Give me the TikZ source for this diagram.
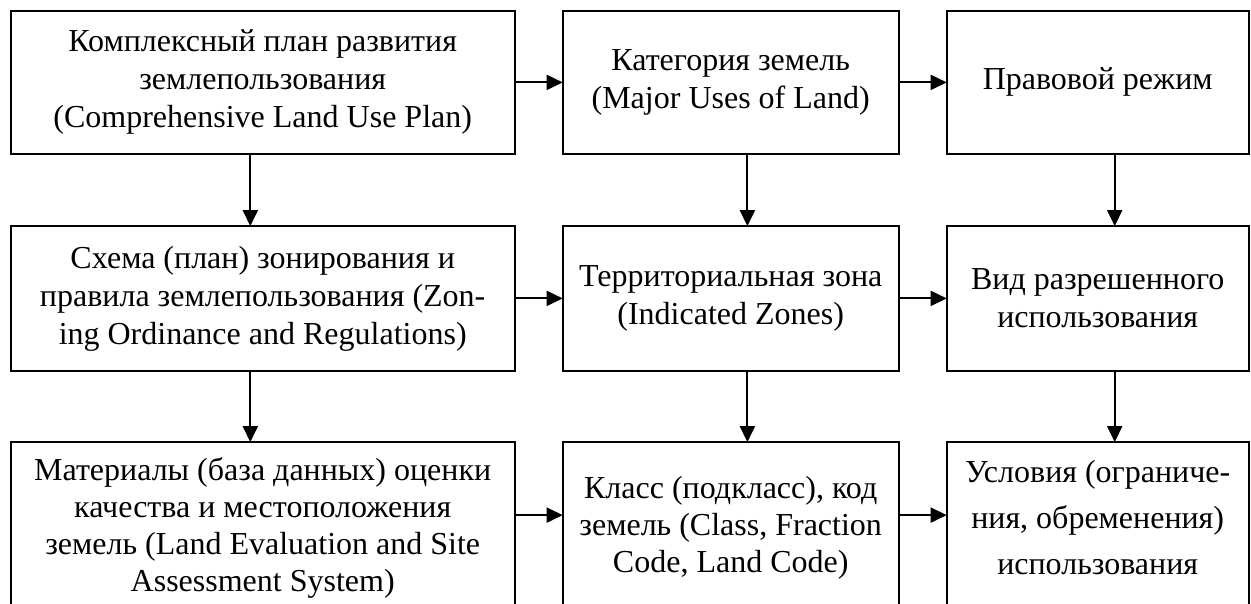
\documentclass[tikz,border=0pt]{standalone}
\usepackage{fontspec}
\setmainfont{Liberation Serif}
\usetikzlibrary{arrows.meta}
\usetikzlibrary{positioning}
\tikzset{
	zbox/.style={draw=black, line width=1pt, align=center, inner sep=4pt, outer sep=0pt,
		font=\fontsize{16}{19}\selectfont},
	flow/.style={line width=1pt, -{Triangle[length=8pt,width=7.5pt]}}
}

\begin{document}
\begin{tikzpicture}[node distance=36pt and 24pt]
		\useasboundingbox (-5.35pt,5.35pt) rectangle (620.15pt,-296.65pt);
		% first row
		\node[zbox, anchor=north west, minimum width=252pt, minimum height=71.7pt] (plan) at (0,0)
		{Комплексный план развития\\землепользования\\(Comprehensive Land Use Plan)};
		\node[zbox, right=of plan, minimum width=168pt, minimum height=71.7pt] (kat)
		{Категория земель\\(Major Uses of Land)};
		\node[zbox, right=of kat, minimum width=151pt, minimum height=71.7pt] (rezh)
		{Правовой режим};
		% second row
		\node[zbox, below=of plan, minimum width=252pt, minimum height=72.3pt] (shema)
		{Схема (план) зонирования и\\правила землепользования (Zon-\\ing Ordinance and Regulations)};
		\node[zbox, below=of kat, minimum width=168pt, minimum height=72.3pt] (zona)
		{Территориальная зона\\(Indicated Zones)};
		\node[zbox, below=of rezh, minimum width=151pt, minimum height=72.3pt] (vid)
		{Вид разрешенного\\использования};
		% third row
		\node[zbox, below=35.7pt of shema, minimum width=252pt, minimum height=86pt,
		font=\fontsize{16}{18.5}\selectfont] (mat)
		{Материалы (база данных) оценки\\качества и местоположения\\земель (Land Evaluation and Site\\Assessment System)};
		\node[zbox, below=35.7pt of zona, minimum width=168pt, minimum height=86pt,
		font=\fontsize{16}{18.5}\selectfont] (klass)
		{Класс (подкласс), код\\земель (Class, Fraction\\Code, Land Code)};
		\node[zbox, below=35.7pt of vid, minimum width=151pt, minimum height=86pt,
		font=\fontsize{16}{23}\selectfont, text depth=11pt] (usl)
		{Условия (ограниче-\\ния, обременения)\\использования};
		\draw[flow] (plan) -- (kat);
		\draw[flow] (kat) -- (rezh);
		\draw[flow] (shema) -- (zona);
		\draw[flow] (zona) -- (vid);
		\draw[flow] ([yshift=-36.5pt]mat.north east) -- ([yshift=-36.5pt]klass.north west);
		\draw[flow] ([yshift=-36.5pt]klass.north east) -- ([yshift=-36.5pt]usl.north west);
		\draw[flow] ([xshift=-6.2pt]plan.south) -- ([xshift=-6.2pt]shema.north);
		\draw[flow] ([xshift=-6.2pt]shema.south) -- ([xshift=-6.2pt]mat.north);
		\draw[flow] ([xshift=8.35pt]kat.south) -- ([xshift=8.35pt]zona.north);
		\draw[flow] ([xshift=8.35pt]zona.south) -- ([xshift=8.35pt]klass.north);
		\draw[flow] ([xshift=8.5pt]rezh.south) -- ([xshift=8.5pt]vid.north);
		\draw[flow] ([xshift=8.5pt]vid.south) -- ([xshift=8.5pt]usl.north);
	\end{tikzpicture}
\end{document}
